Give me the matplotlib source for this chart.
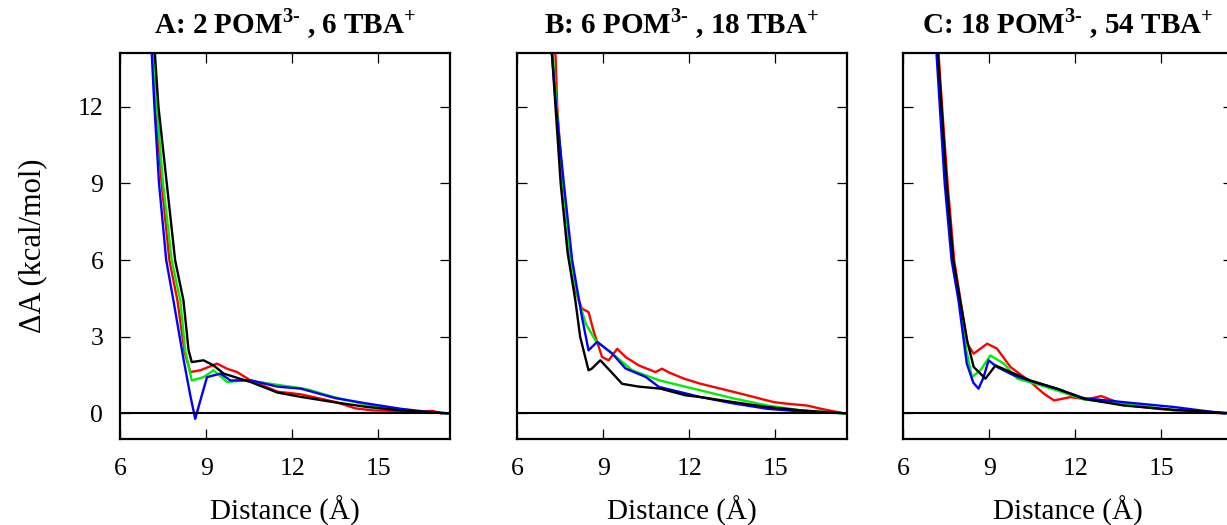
import matplotlib
matplotlib.use('Agg')
import matplotlib.pyplot as plt

plt.rcParams['font.family'] = ['Liberation Serif', 'DejaVu Serif']
# mathtext is only used for the titles, so make its roman font bold
plt.rcParams['mathtext.fontset'] = 'custom'
plt.rcParams['mathtext.rm'] = 'Liberation Serif:bold'
plt.rcParams['mathtext.bf'] = 'Liberation Serif:bold'

### Data (distance in Angstrom, free energy in kcal/mol)
titles = [r'A: 2 POM$^{\text{3-}}$ , 6 TBA$^{\text{+}}$',
          r'B: 6 POM$^{\text{3-}}$ , 18 TBA$^{\text{+}}$',
          r'C: 18 POM$^{\text{3-}}$ , 54 TBA$^{\text{+}}$']

# panel A
a_red_x = [7.07, 7.19, 7.25, 7.45, 7.72, 8.0, 8.25, 8.45, 8.8, 9.38, 9.73, 10.08, 10.55, 11.5, 12.3, 13.5, 14.2, 14.8, 15.5, 16.3, 16.9, 17.2]
a_red_y = [16, 14, 12, 9, 6, 4.43, 2.4, 1.62, 1.69, 1.95, 1.75, 1.62, 1.29, 0.85, 0.75, 0.45, 0.2, 0.12, 0.1, 0.08, 0.1, 0.0]
a_green_x = [7.05, 7.17, 7.28, 7.5, 7.8, 8.1, 8.27, 8.5, 8.91, 9.26, 9.73, 10.31, 11.0, 12.05, 12.5, 13.46, 14.63, 15.8, 17.4]
a_green_y = [16, 14, 12, 9, 6, 4.43, 2.47, 1.29, 1.42, 1.69, 1.23, 1.29, 1.2, 1.03, 0.95, 0.64, 0.33, 0.14, 0.0]
a_blue_x = [7.0, 7.11, 7.2, 7.36, 7.61, 7.86, 8.21, 8.45, 8.62, 8.8, 9.03, 9.5, 9.85, 10.55, 11.48, 12.3, 13.5, 14.6, 15.8, 16.9, 17.5]
a_blue_y = [16, 14, 12, 9, 6, 4.43, 2.14, 0.7, -0.21, 0.51, 1.42, 1.56, 1.29, 1.3, 1.05, 0.97, 0.6, 0.39, 0.18, 0.04, 0.0]
a_black_x = [7.10, 7.22, 7.34, 7.63, 7.92, 8.21, 8.39, 8.5, 8.91, 9.26, 9.61, 10.55, 11.48, 12.29, 13.46, 14.63, 15.8, 16.95, 17.5]
a_black_y = [16, 14, 12, 9, 6, 4.43, 2.47, 2.01, 2.08, 1.88, 1.56, 1.23, 0.82, 0.65, 0.44, 0.25, 0.12, 0.04, 0.0]

# panel B
b_red_x = [7.22, 7.34, 7.40, 7.58, 7.82, 8.03, 8.26, 8.49, 8.66, 8.96, 9.19, 9.49, 9.78, 10.24, 10.82, 11.05, 11.3, 11.82, 12.4, 13.56, 14.26, 14.96, 15.42, 16.1, 16.6, 17.41]
b_red_y = [16, 14, 12, 9, 6, 4.82, 4.1, 3.97, 3.25, 2.21, 2.08, 2.53, 2.21, 1.88, 1.62, 1.75, 1.6, 1.36, 1.16, 0.84, 0.64, 0.44, 0.38, 0.31, 0.18, 0.0]
b_green_x = [7.15, 7.25, 7.38, 7.6, 7.86, 8.14, 8.4, 8.73, 9.31, 10.01, 10.94, 12.4, 13.5, 14.73, 15.9, 17.4]
b_green_y = [16, 14, 12, 9, 6, 4.43, 3.5, 2.86, 2.35, 1.69, 1.3, 0.9, 0.6, 0.31, 0.12, 0.0]
b_blue_x = [7.1, 7.22, 7.36, 7.63, 7.92, 8.26, 8.49, 8.79, 9.31, 9.78, 10.48, 10.94, 12.4, 13.5, 14.73, 15.9, 17.06]
b_blue_y = [16, 14, 12, 9, 6, 3.78, 2.47, 2.8, 2.35, 1.76, 1.43, 1.04, 0.64, 0.4, 0.18, 0.08, 0.02]
b_black_x = [7.10, 7.22, 7.34, 7.52, 7.76, 8.03, 8.2, 8.49, 8.6, 8.9, 9.3, 9.66, 10.24, 11.0, 11.87, 12.4, 13.5, 14.73, 15.9, 17.06, 17.5]
b_black_y = [16, 14, 12, 9, 6.3, 4.43, 2.99, 1.69, 1.75, 2.08, 1.6, 1.16, 1.05, 0.97, 0.71, 0.64, 0.45, 0.25, 0.12, 0.03, 0.0]

# panel C
c_red_x = [7.12, 7.24, 7.36, 7.55, 7.78, 8.0, 8.25, 8.46, 8.93, 9.27, 9.74, 10.44, 10.91, 11.26, 11.84, 12.4, 12.9, 13.47, 14.0, 14.87, 16.0, 17.2]
c_red_y = [16, 14, 12, 9, 6, 4.43, 2.7, 2.34, 2.73, 2.54, 1.82, 1.23, 0.77, 0.51, 0.64, 0.55, 0.68, 0.44, 0.3, 0.18, 0.08, 0.0]
c_green_x = [7.08, 7.2, 7.31, 7.5, 7.72, 7.98, 8.2, 8.4, 8.7, 9.04, 9.51, 9.98, 10.8, 11.5, 12.3, 13.7, 15.45, 17.4]
c_green_y = [16, 14, 12, 9, 6, 4.43, 2.5, 1.42, 1.7, 2.27, 1.95, 1.36, 1.1, 0.85, 0.55, 0.38, 0.12, 0.0]
c_blue_x = [7.05, 7.17, 7.28, 7.45, 7.69, 7.93, 8.22, 8.45, 8.63, 8.8, 8.98, 9.27, 9.86, 10.5, 11.4, 12.3, 13.7, 15.45, 17.2]
c_blue_y = [16, 14, 12, 9, 6, 4.43, 1.95, 1.2, 0.97, 1.4, 2.08, 1.82, 1.49, 1.25, 0.95, 0.6, 0.44, 0.25, 0.0]
c_black_x = [7.10, 7.22, 7.34, 7.52, 7.75, 7.99, 8.23, 8.46, 8.87, 9.22, 9.74, 10.44, 11.37, 12.3, 13.7, 15.45, 17.0, 17.5]
c_black_y = [16, 14, 12, 9, 6, 4.43, 2.86, 1.82, 1.36, 1.88, 1.62, 1.29, 0.97, 0.57, 0.31, 0.14, 0.04, 0.0]

panels = [
    [(a_red_x, a_red_y), (a_green_x, a_green_y), (a_blue_x, a_blue_y), (a_black_x, a_black_y)],
    [(b_red_x, b_red_y), (b_green_x, b_green_y), (b_blue_x, b_blue_y), (b_black_x, b_black_y)],
    [(c_red_x, c_red_y), (c_green_x, c_green_y), (c_blue_x, c_blue_y), (c_black_x, c_black_y)],
]
colors = ['#ff0000', '#00ee00', '#0000ff', 'k']

xticks = [6, 9, 12, 15]
yticks = [0, 3, 6, 9, 12]

### Plotting
fig = plt.figure(figsize=(12.27, 5.25), dpi=100)
lefts = [0.0978, 0.4214, 0.736]

for i in range(3):
    ax = fig.add_axes([lefts[i], 0.1638, 0.269, 0.735])
    for (x, y), c in zip(panels[i], colors):
        ax.plot(x, y, color=c, lw=1.7)
    ax.axhline(0, color='k', lw=1.5)
    ax.set_xlim(6, 17.5)
    ax.set_ylim(-1, 14.1)
    ax.set_xticks(xticks)
    ax.set_yticks(yticks)
    ax.tick_params(direction='in', top=True, right=True, length=7, width=0.9,
                   labelsize=18.5, pad=12)
    ax.tick_params(axis='x', pad=14)
    for s in ax.spines.values():
        s.set_linewidth(1.6)
    if i > 0:
        ax.set_yticklabels([])
    else:
        ax.set_ylabel('ΔA (kcal/mol)', fontsize=22, labelpad=22)
    ax.set_xlabel('Distance (Å)', fontsize=21, labelpad=11)
    ax.set_title(titles[i], fontsize=21, fontweight='bold', pad=14)

fig.savefig('out.png', dpi=100)
